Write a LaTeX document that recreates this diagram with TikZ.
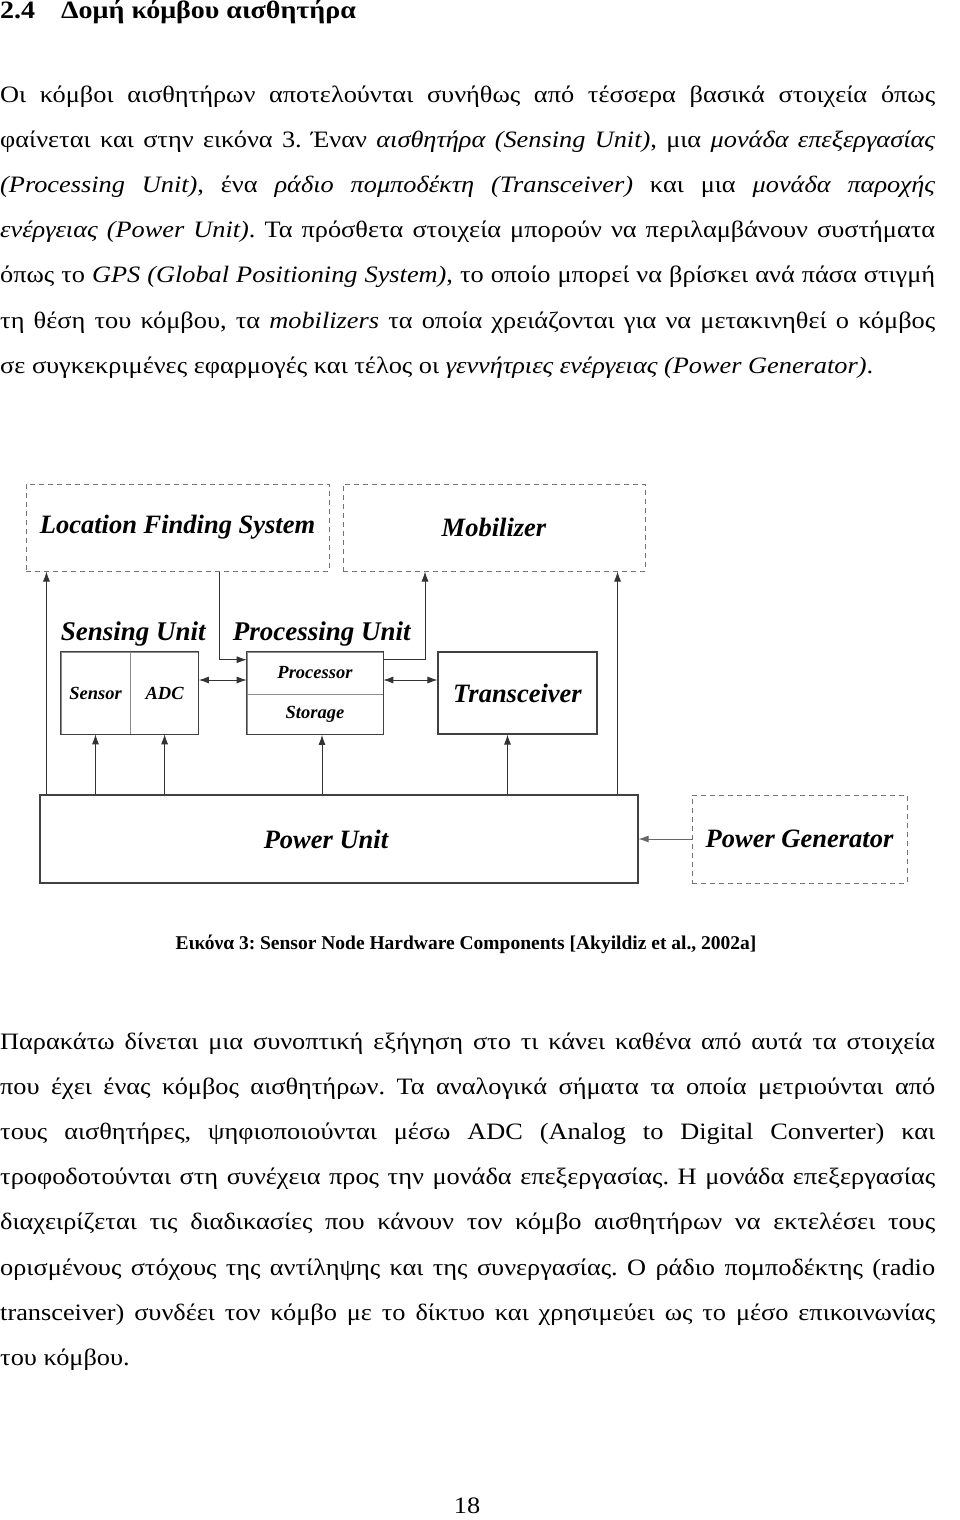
\documentclass[tikz,border=0pt]{standalone}
\usepackage{fontspec}
\setmainfont{Liberation Serif}[FakeStretch=1.12]
\newfontfamily\diagramfont{Liberation Serif}
\usepackage{tikz}
\usetikzlibrary{arrows.meta, positioning, calc}
\frenchspacing
\tikzset{
  unitbox/.style={
    rectangle, draw=black!75, line width=1.1pt, inner sep=0pt,
    font=\diagramfont\fontsize{26.5}{30}\selectfont\bfseries\itshape
  },
  subbox/.style={
    rectangle, draw=black!45, line width=0.6pt, inner sep=0pt,
    font=\diagramfont\fontsize{18.5}{20}\selectfont\bfseries\itshape
  },
  extrabox/.style={
    rectangle, draw=black!55, dash pattern=on 5pt off 4pt, line width=1pt,
    inner sep=0pt, font=\diagramfont\fontsize{26.5}{30}\selectfont\bfseries\itshape
  },
  unitlabel/.style={
    inner sep=0pt, anchor=base west, font=\diagramfont\fontsize{27}{30}\selectfont\bfseries\itshape
  },
  outline/.style={
    draw=black!75, line width=1.1pt
  },
  flowarrow/.style={
    line width=0.9pt, draw=black!80, -{Latex[length=10pt,width=7pt]}
  },
  dualarrow/.style={
    line width=0.9pt, draw=black!80, {Latex[length=10pt,width=7pt]}-{Latex[length=10pt,width=7pt]}
  },
  paratext/.style={
    anchor=base west, inner sep=0pt, text width=935pt, align=justify,
    font=\fontsize{23.5}{45.2}\selectfont
  }
}

\begin{document}
\begin{tikzpicture}[x=1pt, y=-1pt]
  \fill[white] (0,0) rectangle (960,1520);
  \useasboundingbox (0,0) rectangle (960,1520);

  % heading and first paragraph
  \node[anchor=base west, inner sep=0pt, font=\fontsize{25}{28}\selectfont\bfseries] (title) at (0,19)
    {2.4\hspace{26pt}Δομή κόμβου αισθητήρα};
  \node[paratext] (intro) at (0,102) {Οι κόμβοι αισθητήρων αποτελούνται συνήθως από τέσσερα βασικά στοιχεία όπως\linebreak
    φαίνεται και στην εικόνα 3. Έναν \textit{αισθητήρα (Sensing Unit)}, μια \textit{μονάδα επεξεργασίας}\linebreak
    \textit{(Processing Unit)}, ένα \textit{ράδιο πομποδέκτη (Transceiver)} και μια \textit{μονάδα παροχής}\linebreak
    \textit{ενέργειας (Power Unit)}. Τα πρόσθετα στοιχεία μπορούν να περιλαμβάνουν συστήματα\linebreak
    όπως το \textit{GPS (Global Positioning System)}, το οποίο μπορεί να βρίσκει ανά πάσα στιγμή\linebreak
    τη θέση του κόμβου, τα \textit{mobilizers} τα οποία χρειάζονται για να μετακινηθεί ο κόμβος\linebreak
    σε συγκεκριμένες εφαρμογές και τέλος οι \textit{γεννήτριες ενέργειας (Power Generator)}.};

  % optional parts
  \node[extrabox, minimum width=303pt, minimum height=87pt] (lfs) at (177.5,527.5) {Location Finding System};
  \node[extrabox, minimum width=302pt, minimum height=87pt] (mob) at (494,527.5) {Mobilizer};

  % sensing unit
  \node[subbox, minimum width=69pt, minimum height=82pt] (sensor) at (95.5,693) {Sensor};
  \node[subbox, minimum width=68pt, minimum height=82pt, right=0pt of sensor] (adc) {ADC};
  \draw[outline] (sensor.north west) rectangle (adc.south east);
  \node[unitlabel] (senslabel) at ([yshift=11pt]sensor.north west) {Sensing Unit};

  % processing unit
  \node[subbox, minimum width=136pt, minimum height=42pt] (proc) at (315,673) {Processor};
  \node[subbox, minimum width=136pt, minimum height=40pt, below=0pt of proc] (stor) {Storage};
  \draw[outline] (proc.north west) rectangle (stor.south east);
  \node[unitlabel] (proclabel) at ([xshift=-14pt,yshift=11pt]proc.north west) {Processing Unit};

  \node[unitbox, minimum width=159pt, minimum height=82pt] (trx) at (517.5,693) {Transceiver};
  \node[unitbox, minimum width=598pt, minimum height=88pt] (power) at (339,839) {\hspace{-26pt}Power Unit};
  \node[extrabox, minimum width=215pt, minimum height=88pt] (pgen) at (799.5,839) {Power Generator};

  % connectors
  \draw[flowarrow] ([xshift=7pt]power.north west) -- ([xshift=7pt]power.north west |- lfs.south);
  \draw[flowarrow] (sensor.south |- power.north) -- (sensor.south);
  \draw[flowarrow] (adc.south |- power.north) -- (adc.south);
  \draw[flowarrow] ([xshift=7pt]stor.south |- power.north) -- ([xshift=7pt]stor.south);
  \draw[flowarrow] ([xshift=-10pt]trx.south |- power.north) -- ([xshift=-10pt]trx.south);
  \draw[flowarrow] ([xshift=-21pt]power.north east) -- ([xshift=-21pt]power.north east |- mob.south);
  \draw[flowarrow] ([xshift=41.5pt]lfs.south) |- ([yshift=-8pt]proc.north west);
  \draw[flowarrow] ([yshift=-8pt]proc.north east) -| ([xshift=-69pt]mob.south);
  \draw[dualarrow] ([yshift=13pt]adc.east) -- ([yshift=13pt]adc.east -| proc.west);
  \draw[dualarrow] ([yshift=-7pt]proc.east) -- ([yshift=-7pt]proc.east -| trx.west);
  \draw[flowarrow, draw=black!60] (pgen.west) -- (power.east);

  % caption, second paragraph, page number
  \node[anchor=base, inner sep=0pt, font=\diagramfont\fontsize{19.5}{22}\selectfont\bfseries] (caption) at (466,949)
    {Εικόνα 3: Sensor Node Hardware Components [Akyildiz et al., 2002a]};
  \node[paratext] (explain) at (0,1049) {Παρακάτω δίνεται μια συνοπτική εξήγηση στο τι κάνει καθένα από αυτά τα στοιχεία\linebreak
    που έχει ένας κόμβος αισθητήρων. Τα αναλογικά σήματα τα οποία μετριούνται από\linebreak
    τους αισθητήρες, ψηφιοποιούνται μέσω ADC (Analog to Digital Converter) και\linebreak
    τροφοδοτούνται στη συνέχεια προς την μονάδα επεξεργασίας. Η μονάδα επεξεργασίας\linebreak
    διαχειρίζεται τις διαδικασίες που κάνουν τον κόμβο αισθητήρων να εκτελέσει τους\linebreak
    ορισμένους στόχους της αντίληψης και της συνεργασίας. Ο ράδιο πομποδέκτης (radio\linebreak
    transceiver) συνδέει τον κόμβο με το δίκτυο και χρησιμεύει ως το μέσο επικοινωνίας\linebreak
    του κόμβου.};
  \node[anchor=base, inner sep=0pt, font=\fontsize{23.5}{26}\selectfont] (pagenum) at (467,1513) {18};
\end{tikzpicture}
\end{document}
